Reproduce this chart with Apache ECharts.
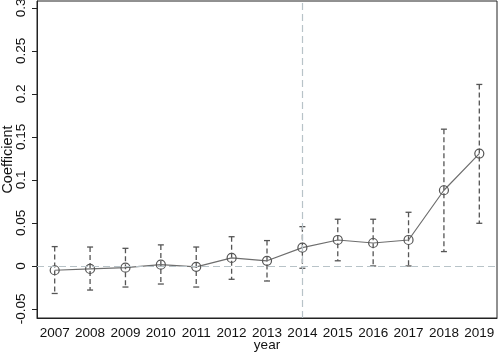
<!DOCTYPE html>
<html>
<head>
<meta charset="utf-8">
<script src="https://cdn.jsdelivr.net/npm/echarts@6/dist/echarts.min.js"></script>
<style>
  html, body { margin: 0; padding: 0; background: #fff; }
  #chart { width: 498px; height: 354px; }
</style>
</head>
<body>
<div id="chart"></div>
<script>
// event-study coefficients with 95% CI
const years = ['2007', '2008', '2009', '2010', '2011', '2012', '2013', '2014', '2015', '2016', '2017', '2018', '2019'];
const coef = [-0.005, -0.0035, -0.002, 0.0015, -0.001, 0.0093, 0.006, 0.0213, 0.0302, 0.0267, 0.0302, 0.088, 0.1306];
const ciLow = [-0.032, -0.028, -0.0245, -0.021, -0.0245, -0.0155, -0.0175, -0.0027, 0.006, 0.0, 0.0, 0.0167, 0.0496];
const ciHigh = [0.0225, 0.022, 0.0205, 0.0245, 0.022, 0.034, 0.0295, 0.0457, 0.0543, 0.0543, 0.0624, 0.159, 0.211];
const yTicks = [-0.05, 0, 0.05, 0.1, 0.15, 0.2, 0.25, 0.3];
const yTickLabels = ['-0.05', '0', '0.05', '0.1', '0.15', '0.2', '0.25', '0.3'];
const eventYear = '2014';

const chart = echarts.init(document.getElementById('chart'));
const font = 'Liberation Sans, Arial, sans-serif';
const refColor = '#b8c3c8';

const errData = years.map((y, i) => [i, ciLow[i], ciHigh[i]]);

const option = {
  animation: false,
  grid: {
    left: 37, right: 1, top: 1, bottom: 36,
    outerBoundsMode: 'none',
    containLabel: false,
    show: true, borderColor: '#222', borderWidth: 1
  },
  xAxis: {
    type: 'category',
    data: years,
    boundaryGap: true,
    name: 'year',
    nameLocation: 'middle',
    nameGap: 20,
    nameMoveOverlap: false,
    nameTextStyle: { color: '#111', fontSize: 13.5, fontFamily: font },
    axisLine: { onZero: false, lineStyle: { color: '#222', width: 1 } },
    axisTick: { alignWithLabel: true, length: 5, lineStyle: { color: '#222' } },
    axisLabel: { color: '#111', fontSize: 13.5, fontFamily: font, margin: 8, interval: 0 },
    splitLine: { show: false }
  },
  yAxis: {
    type: 'value',
    min: -0.0605,
    max: 0.308,
    name: 'Coefficient',
    nameLocation: 'middle',
    nameRotate: 90,
    nameGap: 22,
    nameMoveOverlap: false,
    nameTextStyle: { color: '#111', fontSize: 14.5, fontFamily: font },
    axisLine: { show: true, onZero: false, lineStyle: { color: '#222', width: 1 } },
    axisTick: { show: true, length: 5, customValues: yTicks, lineStyle: { color: '#222' } },
    axisLabel: {
      color: '#111', fontSize: 13.5, fontFamily: font, rotate: 90, margin: 9,
      customValues: yTicks,
      formatter: (v) => {
        const k = yTicks.findIndex(t => Math.abs(t - v) < 1e-9);
        return k >= 0 ? yTickLabels[k] : '';
      }
    },
    splitLine: { show: false }
  },
  series: [
    {
      // reference lines: zero effect and policy year
      type: 'line',
      data: [],
      z: 1,
      markLine: {
        silent: true,
        symbol: 'none',
        label: { show: false },
        lineStyle: { color: refColor, type: [7, 4], width: 1.2 },
        data: [{ yAxis: 0 }, { xAxis: eventYear }]
      }
    },
    {
      type: 'custom',
      z: 2,
      data: errData,
      encode: { x: 0, y: [1, 2] },
      renderItem: (params, api) => {
        const i = api.value(0);
        const lo = api.coord([i, api.value(1)]);
        const hi = api.coord([i, api.value(2)]);
        const w = 3;
        const st = { stroke: '#555', lineWidth: 1.3 };
        return {
          type: 'group',
          children: [
            { type: 'line', shape: { x1: hi[0], y1: hi[1], x2: lo[0], y2: lo[1] },
              style: Object.assign({ lineDash: [5, 3] }, st) },
            { type: 'line', shape: { x1: hi[0] - w, y1: hi[1], x2: hi[0] + w, y2: hi[1] }, style: st },
            { type: 'line', shape: { x1: lo[0] - w, y1: lo[1], x2: lo[0] + w, y2: lo[1] }, style: st }
          ]
        };
      }
    },
    {
      type: 'line',
      z: 3,
      data: coef,
      symbol: 'circle',
      symbolSize: 9,
      lineStyle: { color: '#6e6e6e', width: 1.2 },
      itemStyle: { color: 'rgba(0,0,0,0)', borderColor: '#555', borderWidth: 1.2 }
    }
  ]
};

chart.setOption(option);
</script>
</body>
</html>
